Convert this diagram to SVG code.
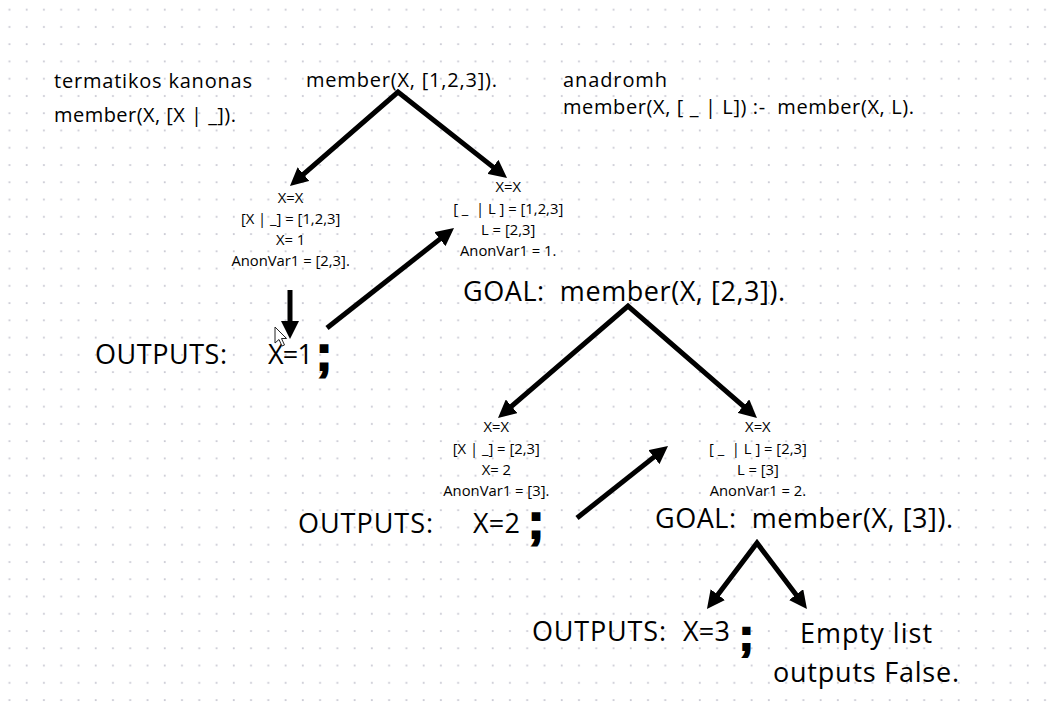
<svg xmlns="http://www.w3.org/2000/svg" width="1047" height="712" viewBox="0 0 1047 712">
<defs>
<pattern id="grid" width="17.26" height="17.26" patternUnits="userSpaceOnUse">
<rect x="8.5" y="8.8" width="1.8" height="1.8" fill="#c9c9d3"/>
</pattern>
<marker id="ah" viewBox="0 0 18 18" refX="6" refY="9" markerWidth="18" markerHeight="18" markerUnits="userSpaceOnUse" orient="auto-start-reverse">
<path d="M0,0 L18,9 L0,18 Z" fill="#000"/>
</marker>
<style>
.h{font-family:"Open Sans","Liberation Sans",sans-serif;font-size:20px;fill:#000}
.s{font-family:"Open Sans","Liberation Sans",sans-serif;font-size:14.8px;fill:#000;text-anchor:middle}
.b{font-family:"Open Sans","Liberation Sans",sans-serif;font-size:27px;fill:#000}
.sc{font-family:"Liberation Sans",sans-serif;font-weight:bold;font-size:48px;fill:#000;stroke:#000;stroke-width:2}
.c{fill:none;stroke:#000;stroke-width:5;stroke-linejoin:miter}
</style>
</defs>
<rect width="1047" height="712" fill="#fff"/>
<rect width="1047" height="712" fill="url(#grid)"/>

<g id="connectors">
<polyline class="c" points="299,178.1 398,92 497.6,170.6" marker-start="url(#ah)" marker-end="url(#ah)"/>
<line class="c" x1="290" y1="290" x2="290" y2="327" marker-end="url(#ah)"/>
<line class="c" x1="327" y1="328" x2="444.6" y2="235.4" marker-end="url(#ah)"/>
<polyline class="c" points="507.1,410.2 628,306 747.9,410.1" marker-start="url(#ah)" marker-end="url(#ah)"/>
<line class="c" x1="577" y1="518" x2="658.6" y2="453.4" marker-end="url(#ah)"/>
<polyline class="c" points="714.2,599.4 757,543 799.7,599.4" marker-start="url(#ah)" marker-end="url(#ah)"/>
</g>

<g id="base-rule">
<text class="h" x="54" y="88" textLength="198">termatikos kanonas</text>
<text class="h" x="54" y="122" textLength="182">member(X, [X | _]).</text>
</g>
<g id="query">
<text class="h" x="306" y="87" textLength="191">member(X, [1,2,3]).</text>
</g>
<g id="recursive-rule">
<text class="h" x="563" y="87" textLength="104">anadromh</text>
<text class="h" x="563" y="114" textLength="351">member(X, [ _ | L]) :-&#160; member(X, L).</text>
</g>

<g id="unify1">
<text class="s" x="290.6" y="203">X=X</text>
<text class="s" x="290.6" y="224">[X | _] = [1,2,3]</text>
<text class="s" x="290.6" y="244.5">X= 1</text>
<text class="s" x="290.6" y="265.5">AnonVar1 = [2,3].</text>
</g>
<g id="unify2">
<text class="s" x="508.2" y="192">X=X</text>
<text class="s" x="508.2" y="214">[ _&#160; | L ] = [1,2,3]</text>
<text class="s" x="508.2" y="235">L = [2,3]</text>
<text class="s" x="508.2" y="255.5">AnonVar1 = 1.</text>
</g>

<g id="output1">
<text class="b" x="95" y="364" textLength="132">OUTPUTS:</text>
<text class="b" x="268" y="364" textLength="45">X=1</text>
<text class="sc" x="316" y="370">;</text>
</g>

<g id="goal1">
<text class="b" x="463" y="301" textLength="322">GOAL:&#160; member(X, [2,3]).</text>
</g>

<g id="unify3">
<text class="s" x="496.3" y="432">X=X</text>
<text class="s" x="496.3" y="453.5">[X | _] = [2,3]</text>
<text class="s" x="496.3" y="474.5">X= 2</text>
<text class="s" x="496.3" y="495.5">AnonVar1 = [3].</text>
</g>
<g id="unify4">
<text class="s" x="757.9" y="432">X=X</text>
<text class="s" x="757.9" y="453.5">[ _&#160; | L ] = [2,3]</text>
<text class="s" x="757.9" y="474.5">L = [3]</text>
<text class="s" x="757.9" y="495.5">AnonVar1 = 2.</text>
</g>

<g id="output2">
<text class="b" x="298" y="533" textLength="135">OUTPUTS:</text>
<text class="b" x="473" y="533" textLength="47">X=2</text>
<text class="sc" x="528" y="538">;</text>
</g>

<g id="goal2">
<text class="b" x="655" y="528" textLength="298">GOAL:&#160; member(X, [3]).</text>
</g>

<g id="output3">
<text class="b" x="532" y="641" textLength="134">OUTPUTS:</text>
<text class="b" x="683" y="641" textLength="47">X=3</text>
<text class="sc" x="739" y="650" style="font-size:44px">;</text>
</g>

<g id="empty-list">
<text class="b" x="800" y="643" textLength="132">Empty list</text>
<text class="b" x="773" y="682" textLength="186">outputs False.</text>
</g>

<g id="cursor">
<path d="M275,327 L275,343 L279,339.5 L282,346 L284.5,345 L281.5,338.5 L286.5,338.5 Z" fill="#fff" stroke="#222" stroke-width="1"/>
</g>
</svg>
